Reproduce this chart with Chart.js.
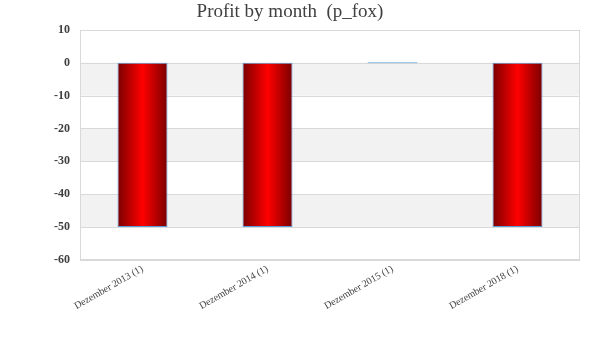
<!DOCTYPE html>
<html>
<head>
<meta charset="utf-8">
<script src="https://cdn.jsdelivr.net/npm/chart.js@4"></script>
<style>
html,body{margin:0;padding:0;background:#fff;}
#wrap{width:600px;height:360px;}
</style>
</head>
<body>
<div id="wrap"><canvas id="c" width="600" height="360"></canvas></div>
<script>
const categories = ["Dezember 2013 (1)", "Dezember 2014 (1)", "Dezember 2015 (1)", "Dezember 2018 (1)"];
const profitValues = [-50, -50, 0, -50];
const chartTitle = "Profit by month  (p_fox)";
const yMin = -60, yMax = 10, yStep = 10;

const FONT = "'Liberation Serif', 'DejaVu Serif', serif";

const bandPlugin = {
  id: 'bands',
  beforeDatasetsDraw(chart) {
    const {ctx, chartArea, scales} = chart;
    const y = scales.y;
    ctx.save();
    ctx.fillStyle = '#f2f2f2';
    for (let v = 0; v > yMin; v -= 2 * yStep) {
      const top = y.getPixelForValue(v);
      const bot = y.getPixelForValue(v - yStep);
      ctx.fillRect(chartArea.left, top, chartArea.right - chartArea.left, bot - top);
    }
    ctx.strokeStyle = '#d9d9d9';
    ctx.lineWidth = 1;
    for (let v = yMin; v <= yMax; v += yStep) {
      const p = Math.round(y.getPixelForValue(v)) + 0.5;
      ctx.beginPath();
      ctx.moveTo(chartArea.left, p);
      ctx.lineTo(chartArea.right, p);
      ctx.stroke();
    }
    ctx.strokeRect(Math.round(chartArea.left) + 0.5, Math.round(chartArea.top) + 0.5,
      Math.round(chartArea.right - chartArea.left) - 1, Math.round(chartArea.bottom - chartArea.top) - 1);
    ctx.restore();
  }
};

function barGradient(context) {
  const chart = context.chart;
  const {ctx, chartArea, scales} = chart;
  if (!chartArea || !scales.x) return '#cc0000';
  const cx = scales.x.getPixelForValue(context.dataIndex);
  const catW = (chartArea.right - chartArea.left) / categories.length;
  const w = catW * 0.4;
  const g = ctx.createLinearGradient(cx - w / 2, 0, cx + w / 2, 0);
  g.addColorStop(0, '#7a0000');
  g.addColorStop(0.5, '#ff0000');
  g.addColorStop(1, '#7a0000');
  return g;
}

new Chart(document.getElementById('c'), {
  type: 'bar',
  data: {
    labels: categories,
    datasets: [{
      label: 'Profit',
      data: profitValues,
      backgroundColor: barGradient,
      borderColor: '#5b9bd5',
      borderWidth: 1,
      borderSkipped: false,
      minBarLength: 1,
      barPercentage: 0.4,
      categoryPercentage: 1.0
    }]
  },
  options: {
    responsive: false,
    animation: false,
    layout: {padding: {top: 0, right: 20, bottom: 0, left: 0}},
    plugins: {
      legend: {display: false},
      tooltip: {enabled: false},
      title: {
        display: true,
        text: chartTitle,
        color: '#404040',
        font: {family: FONT, size: 19, weight: 'normal'},
        padding: {top: 1, bottom: 6}
      }
    },
    scales: {
      x: {
        grid: {display: false, drawTicks: false},
        border: {display: false},
        ticks: {
          color: '#404040',
          font: {family: FONT, size: 10},
          maxRotation: 30, minRotation: 30,
          padding: 3
        },
        afterFit(s) { s.height = 100; }
      },
      y: {
        min: yMin, max: yMax,
        grid: {display: false, drawTicks: false},
        border: {display: false},
        ticks: {
          stepSize: yStep,
          color: '#404040',
          font: {family: FONT, size: 12, weight: 'bold'},
          padding: 10
        },
        afterFit(s) { s.width = 80; }
      }
    }
  },
  plugins: [bandPlugin]
});
</script>
</body>
</html>
